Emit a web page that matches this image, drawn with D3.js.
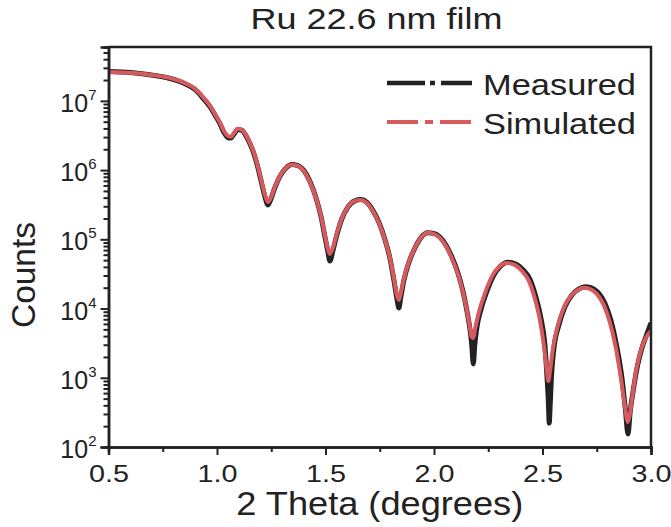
<!DOCTYPE html>
<html>
<head>
<meta charset="utf-8">
<script src="https://cdn.jsdelivr.net/npm/d3@7"></script>
<style>
  body { margin: 0; background: #fff; }
  text { font-family: "Liberation Sans", Arial, sans-serif; fill: #222; }
</style>
</head>
<body>
<svg id="chart" width="671" height="527"></svg>
<script>
// values
const titleText = 'Ru 22.6 nm film'
const xLabel = '2 Theta (degrees)'
const yLabel = 'Counts'
const seriesNames = ['Measured', 'Simulated']
const xTicks = [0.5, 1.0, 1.5, 2.0, 2.5, 3.0]
const xMinorTicks = [0.75, 1.25, 1.75, 2.25, 2.75]
const yTicks = [1e2, 1e3, 1e4, 1e5, 1e6, 1e7]

const simTheta = [0.50, 0.60, 0.69, 0.78, 0.85, 0.90, 0.935, 0.968, 0.99, 1.014, 1.032, 1.05, 1.064, 1.078, 1.096, 1.115, 1.133, 1.152, 1.17, 1.189,
  1.207, 1.221, 1.235, 1.248, 1.267, 1.29, 1.318, 1.345, 1.373, 1.40, 1.428, 1.456, 1.479, 1.497, 1.511, 1.52, 1.534, 1.553, 1.576, 1.603,
  1.635, 1.663, 1.691, 1.718, 1.746, 1.774, 1.797, 1.815, 1.829, 1.838, 1.847, 1.861, 1.884, 1.912, 1.939, 1.972, 1.999, 2.027, 2.055, 2.082,
  2.11, 2.133, 2.151, 2.165, 2.172, 2.179, 2.193, 2.211, 2.239, 2.266, 2.299, 2.336, 2.372, 2.405, 2.437, 2.464, 2.488, 2.506, 2.52, 2.527,
  2.534, 2.547, 2.57, 2.598, 2.63, 2.663, 2.69, 2.718, 2.75, 2.782, 2.81, 2.838, 2.861, 2.879, 2.893, 2.902, 2.916, 2.934, 2.957, 2.976, 3.0]
const simCounts = [2.62e7, 2.54e7, 2.38e7, 2.15e7, 1.82e7, 1.49e7, 1.14e7, 8.47e6, 6.49e6, 4.81e6, 3.68e6, 3.12e6, 3.02e6, 3.44e6, 3.94e6, 3.81e6, 3.22e6, 2.47e6, 1.77e6, 1.11e6,
  6.53e5, 4.38e5, 3.47e5, 3.96e5, 5.71e5, 8.24e5, 1.08e6, 1.19e6, 1.15e6, 9.73e5, 6.75e5, 3.96e5, 2.18e5, 1.16e5, 7.26e4, 6.15e4, 7.52e4, 1.24e5, 2.04e5, 2.94e5,
  3.59e5, 3.71e5, 3.36e5, 2.57e5, 1.73e5, 9.79e4, 5.38e4, 2.77e4, 1.57e4, 1.33e4, 1.68e4, 2.68e4, 4.71e4, 7.52e4, 1.05e5, 1.24e5, 1.20e5, 1.05e5, 8.03e4, 5.38e4,
  3.16e4, 1.74e4, 9.55e3, 5.42e3, 4.02e3, 3.76e3, 5.79e3, 9.86e3, 1.80e4, 2.86e4, 3.99e4, 4.56e4, 4.27e4, 3.49e4, 2.51e4, 1.42e4, 6.84e3, 2.98e3, 1.30e3, 8.99e2,
  1.21e3, 2.52e3, 5.60e3, 1.02e4, 1.52e4, 1.86e4, 1.99e4, 1.92e4, 1.63e4, 1.13e4, 6.40e3, 2.70e3, 9.93e2, 4.04e2, 2.30e2, 2.90e2, 6.03e2, 1.39e3, 2.70e3, 3.76e3, 4.74e3]

const measTheta = [0.50, 0.60, 0.69, 0.78, 0.85, 0.90, 0.935, 0.968, 0.99, 1.014, 1.032, 1.05, 1.064, 1.078, 1.096, 1.115, 1.133, 1.152, 1.17, 1.189,
  1.207, 1.221, 1.235, 1.248, 1.267, 1.29, 1.318, 1.345, 1.373, 1.40, 1.428, 1.456, 1.479, 1.497, 1.511, 1.52, 1.534, 1.553, 1.576, 1.603,
  1.635, 1.663, 1.691, 1.718, 1.746, 1.774, 1.797, 1.815, 1.829, 1.838, 1.847, 1.861, 1.884, 1.912, 1.939, 1.972, 1.999, 2.027, 2.055, 2.082,
  2.11, 2.133, 2.151, 2.165, 2.174, 2.181, 2.188, 2.198, 2.216, 2.244, 2.271, 2.304, 2.341, 2.377, 2.41, 2.442, 2.469, 2.493, 2.511, 2.521,
  2.527, 2.531, 2.536, 2.541, 2.552, 2.575, 2.603, 2.635, 2.668, 2.695, 2.723, 2.755, 2.787, 2.815, 2.843, 2.866, 2.882, 2.894, 2.904, 2.918,
  2.938, 2.96, 2.98, 3.0]
const measCounts = [2.65e7, 2.56e7, 2.38e7, 2.12e7, 1.78e7, 1.45e7, 1.10e7, 8.2e6, 6.3e6, 4.65e6, 3.5e6, 2.95e6, 2.9e6, 3.3e6, 3.85e6, 3.75e6, 3.15e6, 2.4e6, 1.72e6, 1.07e6,
  6.2e5, 4.1e5, 3.14e5, 3.8e5, 5.6e5, 8.1e5, 1.07e6, 1.2e6, 1.16e6, 9.9e5, 6.9e5, 4.0e5, 2.15e5, 1.1e5, 6.6e4, 4.87e4, 6.8e4, 1.18e5, 2.0e5, 2.92e5,
  3.6e5, 3.75e5, 3.42e5, 2.62e5, 1.76e5, 9.9e4, 5.3e4, 2.6e4, 1.4e4, 1.02e4, 1.45e4, 2.55e4, 4.6e4, 7.5e4, 1.05e5, 1.24e5, 1.22e5, 1.08e5, 8.3e4, 5.6e4,
  3.3e4, 1.8e4, 9.5e3, 5.2e3, 3.0e3, 1.58e3, 3.0e3, 5.4e3, 9.6e3, 1.78e4, 2.85e4, 4.0e4, 4.65e4, 4.4e4, 3.65e4, 2.65e4, 1.5e4, 7.2e3, 3.0e3, 1.0e3,
  4.5e2, 2.22e2, 4.5e2, 1.0e3, 2.55e3, 5.7e3, 1.05e4, 1.56e4, 1.92e4, 2.07e4, 2.0e4, 1.72e4, 1.2e4, 6.8e3, 2.75e3, 1.0e3, 3.5e2, 1.54e2, 3.2e2, 6.5e2,
  1.5e3, 2.8e3, 4.2e3, 6.2e3]

const svg = d3.select('#chart')
const margin = {left: 108.5, right: 20, top: 47, bottom: 80}
const width = 671
const height = 527
const ink = '#222'
const red = '#d65a5e'

const xScale = d3.scaleLinear()
                .domain([0.5, 3.0])
                .range([margin.left, width - margin.right])
const yScale = d3.scaleLog()
                .domain([100, 6e7])
                .range([height - margin.bottom, margin.top])

const plotW = xScale(3.0) - xScale(0.5)
const plotH = yScale(100) - yScale(6e7)

svg.append('clipPath').attr('id', 'clip')
    .append('rect')
    .attr('x', margin.left).attr('y', margin.top)
    .attr('width', plotW).attr('height', plotH)

const line = d3.line()
                .x(d => xScale(d[0]))
                .y(d => yScale(d[1]))
                .curve(d3.curveMonotoneX)

const measured = measTheta.map((t, i) => [t, measCounts[i]])
const simulated = simTheta.map((t, i) => [t, simCounts[i]])

const curves = svg.append('g').attr('clip-path', 'url(#clip)')
curves.append('path')
    .datum(measured)
    .attr('d', line)
    .attr('fill', 'none')
    .attr('stroke', ink)
    .attr('stroke-width', 5)
    .attr('stroke-linejoin', 'round')
curves.append('path')
    .datum(simulated)
    .attr('d', line)
    .attr('fill', 'none')
    .attr('stroke', red)
    .attr('stroke-width', 4)
    .attr('stroke-linejoin', 'round')

// axes
const xAxis = d3.axisBottom(xScale)
                .tickValues(xTicks)
                .tickFormat(d3.format('.1f'))
                .tickSize(8)
                .tickPadding(10)
const xMinor = d3.axisBottom(xScale)
                .tickValues(xMinorTicks)
                .tickFormat('')
                .tickSize(5)
const gx = svg.append('g')
    .attr('transform', 'translate(0,' + (height - margin.bottom) + ')')
    .call(xAxis)
svg.append('g')
    .attr('transform', 'translate(0,' + (height - margin.bottom) + ')')
    .call(xMinor)
gx.selectAll('text')
    .attr('font-size', 24)
    .attr('textLength', 40)
    .attr('lengthAdjust', 'spacingAndGlyphs')

const yMinorTicks = yScale.ticks().filter(v => !yTicks.includes(v) && Math.abs(Math.log10(v) % 1) > 1e-6)
const yAxis = d3.axisLeft(yScale)
                .tickValues(yTicks)
                .tickSize(8)
                .tickPadding(4)
const yMinor = d3.axisLeft(yScale)
                .tickValues(yMinorTicks)
                .tickFormat('')
                .tickSize(5)
const gy = svg.append('g')
    .attr('transform', 'translate(' + margin.left + ',0)')
    .call(yAxis)
svg.append('g')
    .attr('transform', 'translate(' + margin.left + ',0)')
    .call(yMinor)
gy.selectAll('text')
    .attr('font-size', 25)
    .attr('dy', '0.42em')
    .each(function(d) {
        const t = d3.select(this)
        t.text('')
        t.append('tspan').text('10')
        t.append('tspan')
            .attr('font-size', 15)
            .attr('dy', -12)
            .text(Math.round(Math.log10(d)))
    })

svg.selectAll('.domain').attr('stroke', ink).attr('stroke-width', 2.5)
svg.selectAll('.tick line').attr('stroke', ink).attr('stroke-width', 2)
svg.selectAll('.tick text').attr('fill', ink)

// frame top and right
svg.append('path')
    .attr('d', `M${xScale(0.5)},${yScale(6e7)}H${xScale(3.0)}V${yScale(100)}`)
    .attr('fill', 'none')
    .attr('stroke', ink)
    .attr('stroke-width', 2.5)

// titles
svg.append('text')
    .attr('x', 376.5).attr('y', 29)
    .attr('text-anchor', 'middle')
    .attr('font-size', 29)
    .attr('textLength', 252)
    .attr('lengthAdjust', 'spacingAndGlyphs')
    .text(titleText)
svg.append('text')
    .attr('x', (xScale(0.5) + xScale(3.0)) / 2).attr('y', 515)
    .attr('text-anchor', 'middle')
    .attr('font-size', 33)
    .attr('textLength', 287)
    .attr('lengthAdjust', 'spacingAndGlyphs')
    .text(xLabel)
svg.append('text')
    .attr('transform', 'translate(35,275) rotate(-90)')
    .attr('text-anchor', 'middle')
    .attr('font-size', 33)
    .attr('textLength', 106)
    .attr('lengthAdjust', 'spacingAndGlyphs')
    .text(yLabel)

// legend
const legendItems = [
    {name: seriesNames[0], color: ink, width: 4.5, dash: '38,5,5,6,31', y: 83},
    {name: seriesNames[1], color: red, width: 4, dash: '31,7,8,7,31', y: 122}
]
const legend = svg.append('g')
legendItems.forEach(item => {
    legend.append('line')
        .attr('x1', 387).attr('x2', 472)
        .attr('y1', item.y).attr('y2', item.y)
        .attr('stroke', item.color)
        .attr('stroke-width', item.width)
        .attr('stroke-dasharray', item.dash)
    legend.append('text')
        .attr('x', 483).attr('y', item.y + 11.5)
        .attr('font-size', 30)
        .attr('textLength', 153)
        .attr('lengthAdjust', 'spacingAndGlyphs')
        .text(item.name)
})
</script>
</body>
</html>
